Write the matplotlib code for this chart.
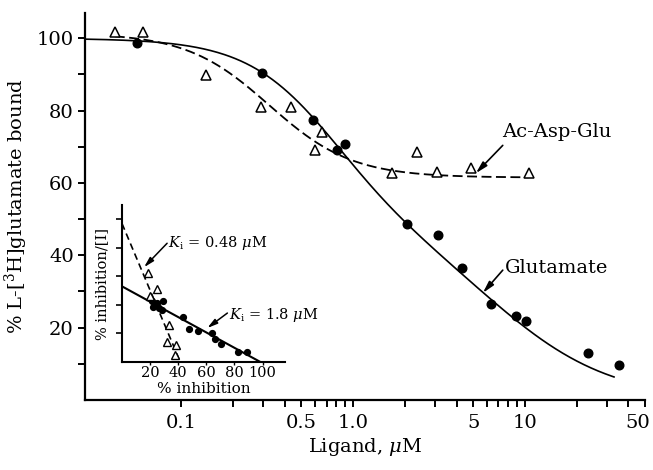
import numpy as np
import matplotlib
matplotlib.use('Agg')
from matplotlib import pyplot as plt
from matplotlib import transforms
from matplotlib.ticker import FixedLocator, NullFormatter

plt.rcParams['font.family'] = ['DejaVu Serif']
plt.rcParams['mathtext.fontset'] = 'dejavuserif'

# main panel: binding vs ligand concentration (uM)
glu_conc = [0.055, 0.294, 0.584, 0.805, 0.895, 2.06, 3.11, 4.30, 6.34, 8.85, 10.1, 23.2, 35.1]
glu_bound = [98.6, 90.3, 77.3, 69.1, 70.7, 48.6, 45.6, 36.5, 26.5, 23.2, 21.8, 13.0, 9.7]
asp_conc = [0.0411, 0.0600, 0.139, 0.290, 0.434, 0.600, 0.658, 1.68, 2.35, 3.07, 4.84, 10.5]
asp_bound = [101.7, 101.7, 89.8, 81.0, 81.0, 69.1, 74.0, 62.7, 68.5, 63.0, 64.1, 62.7]

# fitted curves (parameters)
# glutamate: two-site fit
glu_frac1, glu_k1, glu_n1 = 0.5, 0.75, 1.7
glu_k2, glu_n2 = 7.0, 1.25
glu_range = (0.0275, 33.0)
# Ac-Asp-Glu: partial inhibition
asp_top, asp_bottom, asp_ic50, asp_n = 101.5, 61.5, 0.325, 1.8
asp_range = (0.041, 10.5)

# inset: % inhibition/[I] vs % inhibition
ins_glu_x = [21.2, 22.4, 25.0, 26.1, 29.5, 28.4, 43.6, 47.9, 53.8, 64.1, 66.4, 70.4, 82.9, 88.9]
ins_glu_y = [42.6, 38.8, 41.2, 37.7, 42.6, 36.3, 31.8, 23.4, 22.0, 20.5, 16.1, 12.9, 7.0, 7.2]
ins_asp_x = [18.6, 25.0, 20.0, 33.6, 32.1, 38.6, 37.9]
ins_asp_y = [62.2, 51.0, 46.1, 25.9, 14.0, 11.9, 4.9]
ins_glu_line_x = [0, 98.5]
ins_glu_line_y = [53.0, 0]
ins_asp_line_x = [0, 41.5]
ins_asp_line_y = [97.0, 0]

x_major = [0.1, 0.5, 1.0, 5, 10, 50]
x_major_labels = ['0.1', '0.5', '1.0', '5', '10', '50']
x_minor = [0.2, 0.3, 0.4, 0.6, 0.7, 0.8, 0.9, 2, 3, 4, 6, 7, 8, 9, 20, 30, 40]


def hill(x, top, bottom, ic50, n):
    return bottom + (top - bottom) / (1 + (x / ic50) ** n)


def two_site(x):
    return 100 * (glu_frac1 / (1 + (x / glu_k1) ** glu_n1)
                  + (1 - glu_frac1) / (1 + (x / glu_k2) ** glu_n2))


fig = plt.figure(figsize=(6.53, 4.70), dpi=100)
ax = fig.add_axes([85/653, 70/470, 560/653, 387/470])

xs = np.logspace(np.log10(glu_range[0]), np.log10(glu_range[1]), 300)
ax.plot(xs, two_site(xs), 'k-', lw=1.2)
xs = np.logspace(np.log10(asp_range[0]), np.log10(asp_range[1]), 300)
ax.plot(xs, hill(xs, asp_top, asp_bottom, asp_ic50, asp_n), 'k--', lw=1.3, dashes=(5.5, 2.5))

ax.plot(glu_conc, glu_bound, 'o', color='k', ms=6.2, zorder=3)
ax.plot(asp_conc, asp_bound, '^', mfc='white', mec='k', mew=1.1, ms=6.5, zorder=3)

ax.set_xscale('log')
ax.set_xlim(0.0275, 50)
ax.set_ylim(0, 107)
for s in ['top', 'right']:
    ax.spines[s].set_visible(False)
for s in ['left', 'bottom']:
    ax.spines[s].set_linewidth(1.6)
ax.xaxis.set_major_locator(FixedLocator(x_major))
ax.set_xticklabels(x_major_labels)
ax.xaxis.set_minor_locator(FixedLocator(x_minor))
ax.xaxis.set_minor_formatter(NullFormatter())
ax.set_yticks([20, 40, 60, 80, 100])
ax.set_yticks([10, 30, 50, 70, 90], minor=True)
ax.tick_params(which='both', direction='out', length=5, width=1.4, labelsize=14)
ax.tick_params(axis='x', pad=5)
ax.tick_params(axis='y', pad=3)
# last label sits against the figure edge, as in the original
lab50 = ax.get_xticklabels()[-1]
lab50.set_transform(lab50.get_transform() + transforms.ScaledTranslation(-7/100, 0, fig.dpi_scale_trans))
ax.set_xlabel(r'Ligand, $\mu$M', fontsize=14, labelpad=3)
ax.set_ylabel(r'% L-[$^{3}$H]glutamate bound', fontsize=14, labelpad=5)

arrow = dict(arrowstyle='-|>,head_length=0.7,head_width=0.18', color='k', lw=1.2,
             shrinkA=0, shrinkB=0)
ax.annotate('', xy=(5.18, 62.7), xytext=(7.43, 70.4), arrowprops=arrow)
ax.text(7.35, 74.0, 'Ac-Asp-Glu', fontsize=14, va='center', ha='left')
ax.annotate('', xy=(5.69, 29.6), xytext=(7.43, 35.9), arrowprops=arrow)
ax.text(7.64, 36.5, 'Glutamate', fontsize=14, va='center', ha='left')

# inset
ins = fig.add_axes([122/653, 108/470, 163/653, 157/470])
ins.plot(ins_glu_line_x, ins_glu_line_y, 'k-', lw=1.5)
ins.plot(ins_asp_line_x, ins_asp_line_y, 'k--', lw=1.2, dashes=(4, 2.5))
ins.plot(ins_glu_x, ins_glu_y, 'o', color='k', ms=4.2, zorder=3)
ins.plot(ins_asp_x, ins_asp_y, '^', mfc='white', mec='k', mew=1.0, ms=5.5, zorder=3)
ins.set_xlim(0, 116)
ins.set_ylim(0, 110)
ins.patch.set_alpha(0)
for s in ['top', 'right']:
    ins.spines[s].set_visible(False)
for s in ['left', 'bottom']:
    ins.spines[s].set_linewidth(1.5)
ins.set_xticks([20, 40, 60, 80, 100])
ins.set_yticks([20, 40, 60, 80, 100])
ins.set_yticklabels([])
ins.tick_params(axis='y', direction='out', length=4, width=1.2)
ins.tick_params(axis='x', direction='out', length=2, width=1.0, labelsize=10.5, pad=1)
ins.set_xlabel('% inhibition', fontsize=11, labelpad=1)
ins.set_ylabel('% inhibition/[I]', fontsize=10.5, labelpad=2)

arrow2 = dict(arrowstyle='-|>,head_length=0.6,head_width=0.16', color='k', lw=1.1,
              shrinkA=0, shrinkB=0)
ins.annotate('', xy=(15.7, 66.4), xytext=(32.1, 83.2), arrowprops=arrow2)
ins.text(32.9, 83.2, r'$K_\mathrm{i}$ = 0.48 $\mu$M', fontsize=10.5, va='center', ha='left')
ins.annotate('', xy=(60.7, 23.8), xytext=(75, 34.3), arrowprops=arrow2)
ins.text(76, 32.9, r'$K_\mathrm{i}$ = 1.8 $\mu$M', fontsize=10.5, va='center', ha='left')

fig.savefig('out.png', dpi=100)
